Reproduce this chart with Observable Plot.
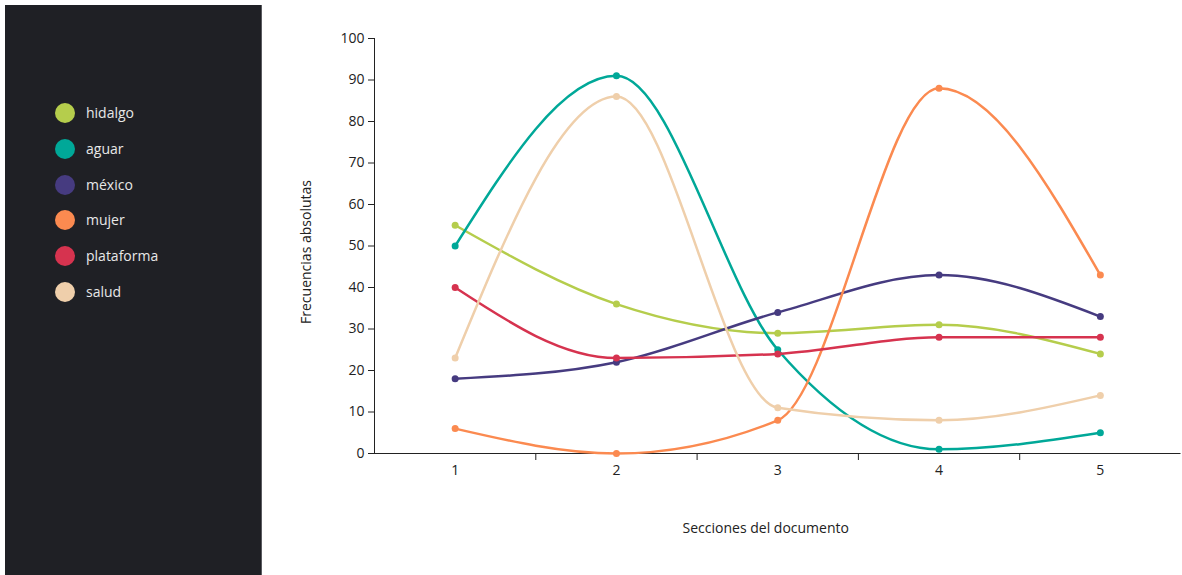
<!DOCTYPE html>
<html><head><meta charset="utf-8">
<script src="https://cdn.jsdelivr.net/npm/d3@7"></script>
<script src="https://cdn.jsdelivr.net/npm/@observablehq/plot@0.6"></script>
<style>
html,body{margin:0;padding:0;background:#fff;width:1182px;height:575px;overflow:hidden;font-family:"Open Sans",sans-serif;}
#side{position:absolute;left:5px;top:5px;width:256px;height:575px;background:#1f2025;border-right:1px solid #5a5b60;}
.item{position:absolute;left:55px;height:20px;display:flex;align-items:center;}
.sw{width:20px;height:20px;border-radius:50%;margin-right:11px;flex:none}
.lab{color:#e8e8e8;font-size:14px;line-height:20px}
#chart{position:absolute;left:262px;top:0}
</style>
</head><body>
<div id="side"></div>
<div id="legend"></div>
<div id="chart"></div>
<script>
const sections = [1, 2, 3, 4, 5];
const seriesNames = ["hidalgo", "aguar", "méxico", "mujer", "plataforma", "salud"];
const colors = ["#b5cd4c", "#00a898", "#463b80", "#fb8a50", "#d6334f", "#efcfab"];
const hidalgo = [55, 36, 29, 31, 24];
const aguar = [50, 91, 25, 1, 5];
const mexico = [18, 22, 34, 43, 33];
const mujer = [6, 0, 8, 88, 43];
const plataforma = [40, 23, 24, 28, 28];
const salud = [23, 86, 11, 8, 14];
const yTicks = [0, 10, 20, 30, 40, 50, 60, 70, 80, 90, 100];
const xLabel = "Secciones del documento";
const yLabel = "Frecuencias absolutas";

const valuesBySeries = [hidalgo, aguar, mexico, mujer, plataforma, salud];
const table = [];
seriesNames.forEach((s, i) => sections.forEach((x, j) => table.push({serie: s, section: x, value: valuesBySeries[i][j]})));

// legend
const legend = document.getElementById("legend");
seriesNames.forEach((s, i) => {
  const d = document.createElement("div");
  d.className = "item";
  d.style.top = (103 + i * 35.8) + "px";
  d.innerHTML = `<span class="sw" style="background:${colors[i]}"></span><span class="lab">${s}</span>`;
  legend.appendChild(d);
});

const chart = Plot.plot({
  width: 920,
  height: 575,
  marginLeft: 112,
  marginRight: 1.5,
  marginTop: 38,
  marginBottom: 122,
  style: {fontFamily: "'Open Sans', sans-serif", fontSize: "14px", color: "#222", background: "transparent"},
  x: {domain: [0.5, 5.5]},
  y: {domain: [0, 100]},
  color: {domain: seriesNames, range: colors},
  marks: [
    Plot.axisY({ticks: yTicks, tickSize: 6, tickPadding: 4, label: null, fontSize: 14, tickFormat: d3.format("d")}),
    Plot.axisX({ticks: [1.5, 2.5, 3.5, 4.5], tickSize: 7, tickFormat: () => "", label: null}),
    Plot.axisX({ticks: sections, tickSize: 0, tickPadding: 12, label: null, fontSize: 14, tickFormat: d3.format("d")}),
    Plot.ruleY([0], {stroke: "#222"}),
    Plot.ruleX([0.5], {stroke: "#222"}),
    Plot.line(table, {x: "section", y: "value", stroke: "serie", curve: "monotone-x", strokeWidth: 2.5}),
    Plot.dot(table, {x: "section", y: "value", fill: "serie", r: 3.5}),
    Plot.text([xLabel], {frameAnchor: "bottom", text: d => d, dy: 79, dx: -12, fontSize: 14, fill: "#222"}),
    Plot.text([yLabel], {frameAnchor: "left", text: d => d, rotate: -90, textAnchor: "middle", lineAnchor: "middle", dx: -68, dy: 6, fontSize: 14, fill: "#222"})
  ]
});
document.getElementById("chart").appendChild(chart);
</script>
</body></html>
